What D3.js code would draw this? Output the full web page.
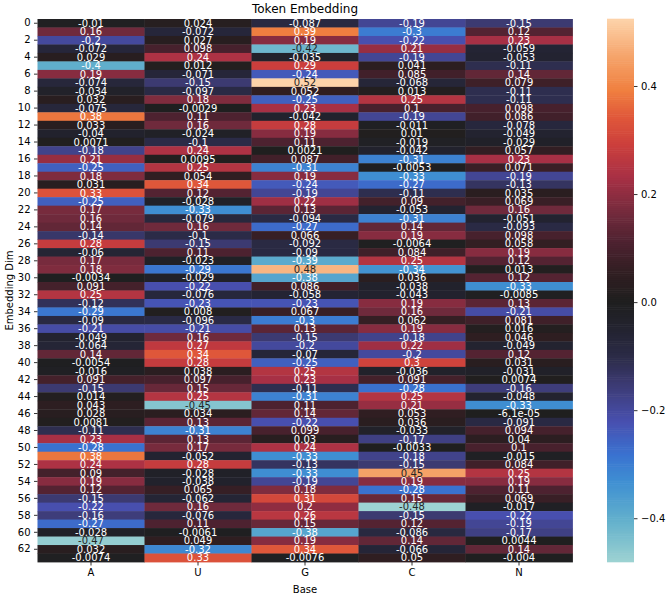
<!DOCTYPE html>
<html>
<head>
<meta charset="utf-8">
<script src="https://cdn.jsdelivr.net/npm/d3@7"></script>
<style>
  html, body { margin: 0; padding: 0; background: #fff; }
  svg { display: block; font-family: "DejaVu Sans", sans-serif; }
</style>
</head>
<body>
<svg id="chart" width="668" height="597"></svg>
<script>
// ---------- data ----------
const title = "Token Embedding";
const xTitle = "Base";
const yTitle = "Embedding Dim";
const bases = ["A", "U", "G", "C", "N"];
const dims = d3.range(64);
const yTickLabels = d3.range(0, 64, 2);
const cbarTicks = [0.4, 0.2, 0.0, -0.2, -0.4];

const valA = [-0.01, 0.16, -0.2, -0.072, 0.029, -0.4, 0.19, -0.074, -0.034, 0.032, -0.075, 0.38, 0.033, -0.04, 0.0071, -0.18,
  0.21, -0.25, 0.18, 0.031, 0.33, -0.25, 0.17, 0.16, 0.14, -0.14, 0.28, -0.06, 0.17, 0.18, -0.0034, 0.091,
  0.25, -0.12, -0.29, -0.09, -0.21, -0.049, -0.064, 0.14, -0.0054, -0.016, 0.091, -0.15, 0.014, 0.043, 0.028, 0.0081,
  -0.11, 0.23, -0.28, 0.38, 0.24, 0.09, 0.19, 0.12, -0.15, -0.22, -0.16, -0.27, -0.028, -0.47, 0.032, -0.0074];
const valU = [0.024, -0.072, 0.027, 0.098, 0.24, 0.012, -0.071, -0.15, -0.097, 0.18, -0.0029, 0.11, 0.16, -0.024, -0.1, 0.24,
  0.0095, 0.25, 0.054, 0.34, 0.12, -0.028, -0.33, -0.079, 0.16, -0.1, -0.15, 0.11, -0.023, -0.29, -0.029, -0.22,
  -0.076, -0.23, 0.008, -0.096, -0.21, 0.16, 0.27, 0.34, 0.28, 0.038, 0.097, 0.15, 0.25, -0.45, 0.034, 0.13,
  -0.31, 0.13, 0.17, -0.052, 0.28, -0.028, -0.038, 0.065, -0.062, 0.16, -0.076, 0.11, -0.0061, 0.049, -0.32, 0.33];
const valG = [-0.087, 0.39, 0.19, -0.42, -0.035, 0.29, -0.24, 0.524, 0.052, -0.25, 0.23, -0.042, 0.28, 0.19, 0.11, 0.0021,
  0.087, -0.31, 0.19, -0.24, -0.19, 0.22, 0.13, -0.094, -0.27, 0.066, -0.092, -0.09, -0.39, 0.48, -0.38, 0.086,
  -0.058, -0.23, 0.067, -0.3, 0.13, -0.15, -0.2, -0.07, -0.25, 0.25, 0.23, -0.11, -0.31, 0.11, 0.14, -0.22,
  0.099, 0.03, 0.24, -0.33, -0.13, -0.33, -0.19, 0.18, 0.31, 0.2, 0.26, 0.15, -0.38, 0.19, 0.34, -0.0076];
const valC = [-0.19, -0.3, -0.22, 0.21, -0.19, 0.041, 0.085, -0.068, 0.013, 0.25, 0.1, -0.19, -0.011, 0.01, -0.019, -0.042,
  -0.31, -0.0053, -0.33, -0.27, -0.11, 0.09, -0.053, -0.31, 0.14, 0.19, -0.0064, 0.084, 0.25, -0.34, 0.036, -0.038,
  -0.043, 0.19, 0.16, 0.062, 0.19, -0.18, 0.22, -0.2, 0.3, -0.036, 0.091, -0.28, 0.25, 0.21, 0.053, 0.036,
  -0.033, -0.17, -0.0033, -0.18, -0.15, 0.45, 0.19, -0.28, 0.15, -0.481, -0.15, 0.12, -0.086, 0.14, -0.066, 0.05];
const valN = [-0.15, 0.12, 0.23, -0.059, -0.053, -0.11, 0.14, 0.079, -0.11, -0.11, 0.098, 0.086, -0.078, -0.049, -0.029, 0.057,
  0.23, 0.071, -0.19, -0.13, 0.035, 0.069, 0.16, -0.051, -0.093, 0.098, 0.058, 0.19, 0.12, 0.013, 0.12, -0.33,
  -0.0085, 0.13, -0.21, 0.081, 0.016, 0.046, -0.049, 0.12, 0.031, -0.031, 0.0074, -0.16, -0.048, -0.33, -6.1e-05, -0.091,
  0.094, 0.04, 0.1, -0.015, 0.084, 0.25, 0.19, 0.11, 0.069, -0.017, -0.22, -0.19, -0.17, 0.0044, 0.14, -0.004];
const columns = [valA, valU, valG, valC, valN];

// ---------- colormap (icefire approximation, positions in [0,1]) ----------
const icefireStops = [
  [0.000, "#b2ddd8"], [0.038, "#a0d4d3"], [0.067, "#88c6cf"], [0.115, "#62b0cc"],
  [0.183, "#3f8fd2"], [0.231, "#3a72d0"], [0.288, "#4850b0"], [0.356, "#3c3a72"],
  [0.404, "#2b2b47"], [0.452, "#232330"], [0.500, "#1f1f1f"], [0.548, "#2f1e21"],
  [0.606, "#4e2230"], [0.654, "#702a3c"], [0.721, "#a83045"], [0.779, "#cc3f3c"],
  [0.827, "#e0583a"], [0.875, "#f08040"], [0.933, "#f5a36a"], [1.000, "#fdd3aa"]
];
const icefire = d3.scaleLinear()
  .domain(icefireStops.map(s => s[0]))
  .range(icefireStops.map(s => s[1]))
  .interpolate(d3.interpolateRgb)
  .clamp(true);

// ---------- layout ----------
const svg = d3.select("#chart");
const L = 37.5, R = 572.5, T = 19, B = 562;
const cbL = 607, cbR = 634;

const cells = [];
columns.forEach((col, ci) => col.forEach((v, ri) => cells.push({ base: bases[ci], dim: ri, v })));

const flat = cells.map(c => c.v);
const [vmin, vmax] = d3.extent(flat);
const center = 0;
const vrange = Math.max(vmax - center, center - vmin);
const norm = d3.scaleLinear().domain([center - vrange, center + vrange]).range([0, 1]);
const color = v => icefire(norm(v));

const x = d3.scaleBand().domain(bases).range([L, R]);
const y = d3.scaleBand().domain(dims).range([T, B]);

// cells
svg.append("g").selectAll("rect").data(cells).join("rect")
  .attr("x", d => x(d.base))
  .attr("y", d => y(d.dim))
  .attr("width", x.bandwidth() + 0.4)
  .attr("height", y.bandwidth() + 0.4)
  .attr("fill", d => color(d.v));

// annotation text
function fmt2g(v) {
  if (v === 0) return "0";
  const a = Math.abs(v);
  if (a < 1e-4) {
    let s = v.toExponential(1);
    s = s.replace(/\.0e/, "e").replace(/e([+-])(\d)$/, "e$10$2");
    return s;
  }
  return String(parseFloat(v.toPrecision(2)));
}
function lum(c) {
  const rgb = d3.rgb(c);
  const f = u => { u /= 255; return u <= 0.03928 ? u / 12.92 : Math.pow((u + 0.055) / 1.055, 2.4); };
  return 0.2126 * f(rgb.r) + 0.7152 * f(rgb.g) + 0.0722 * f(rgb.b);
}
svg.append("g").selectAll("text").data(cells).join("text")
  .attr("x", d => x(d.base) + x.bandwidth() / 2)
  .attr("y", d => y(d.dim) + y.bandwidth() / 2)
  .attr("dy", "0.36em")
  .attr("text-anchor", "middle")
  .attr("font-size", 10)
  .attr("fill", d => lum(color(d.v)) > 0.408 ? "#262626" : "#ffffff")
  .text(d => fmt2g(d.v));

// axes
const yAxis = d3.axisLeft(y).tickValues(yTickLabels).tickSize(3.5).tickPadding(3.5);
const gy = svg.append("g").attr("transform", `translate(${L},0)`).call(yAxis);
const xAxis = d3.axisBottom(x).tickSize(3.5).tickPadding(3.5);
const gx = svg.append("g").attr("transform", `translate(0,${B})`).call(xAxis);
[gx, gy].forEach(g => {
  g.select(".domain").remove();
  g.selectAll(".tick line").attr("stroke", "#000").attr("stroke-width", 0.8);
  g.selectAll(".tick text").attr("fill", "#000").attr("font-size", 10)
    .attr("font-family", "DejaVu Sans, sans-serif");
});

// titles
svg.append("text").attr("x", (L + R) / 2).attr("y", 13).attr("text-anchor", "middle")
  .attr("font-size", 12).attr("fill", "#000").text(title);
svg.append("text").attr("x", (L + R) / 2).attr("y", 592.5).attr("text-anchor", "middle")
  .attr("font-size", 10).attr("fill", "#000").text(xTitle);
svg.append("text").attr("transform", `translate(12.5,${(T + B) / 2}) rotate(-90)`)
  .attr("text-anchor", "middle").attr("font-size", 10).attr("fill", "#000").text(yTitle);

// colorbar
const cy = d3.scaleLinear().domain([vmin, vmax]).range([B, T]);
const nSteps = 256;
const steps = d3.range(nSteps).map(i => vmin + (vmax - vmin) * i / nSteps);
const stepH = (B - T) / nSteps;
svg.append("g").selectAll("rect").data(steps).join("rect")
  .attr("x", cbL).attr("width", cbR - cbL)
  .attr("y", d => cy(d) - stepH - 0.3)
  .attr("height", stepH + 0.6)
  .attr("fill", d => color(d + (vmax - vmin) / nSteps / 2));
const cAxis = d3.axisRight(cy).tickValues(cbarTicks).tickSize(3.5).tickPadding(3.5)
  .tickFormat(d => d3.format(".1f")(d).replace("-", "\u2212"));
const gc = svg.append("g").attr("transform", `translate(${cbR},0)`).call(cAxis);
gc.select(".domain").remove();
gc.selectAll(".tick line").attr("stroke", "#000").attr("stroke-width", 0.8);
gc.selectAll(".tick text").attr("fill", "#000").attr("font-size", 10)
  .attr("font-family", "DejaVu Sans, sans-serif");
</script>
</body>
</html>
